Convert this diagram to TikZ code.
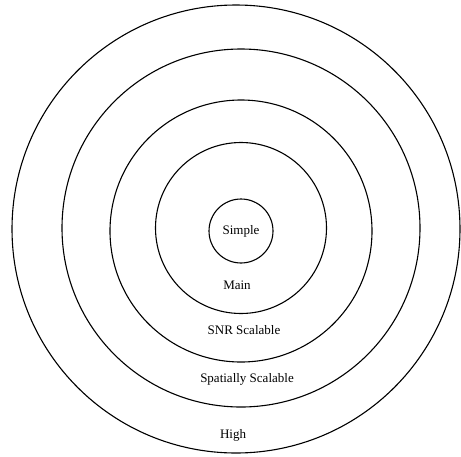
\documentclass[tikz,border=0pt]{standalone}
\usepackage{fontspec}
\setmainfont{Liberation Serif}
\tikzset{ring/.style={draw,circle,line width=1.1pt,inner sep=0pt},
 lbl/.style={font=\fontsize{13}{15}\selectfont,inner sep=1pt}}

\begin{document}
\begin{tikzpicture}[x=1pt,y=-1pt]
\useasboundingbox (0,0) rectangle (461,456);
% nested levels, outermost first
\node[ring,minimum size=448pt] (high) at (236,229) {};
\node[ring,minimum size=358pt] (spatial) at (241,228) {};
\node[ring,minimum size=262pt] (snr) at (241,231) {};
\node[ring,minimum size=171pt] (main) at (241,228) {};
\node[ring,lbl,minimum size=64pt] (simple) at (241,231) {Simple};
% level names
\node[lbl] (mainname) at (237,285) {Main};
\node[lbl] (snrname) at (244,330) {SNR Scalable};
\node[lbl] (spatialname) at (247,379) {Spatially Scalable};
\node[lbl] (highname) at (233,435) {High};
\end{tikzpicture}
\end{document}
